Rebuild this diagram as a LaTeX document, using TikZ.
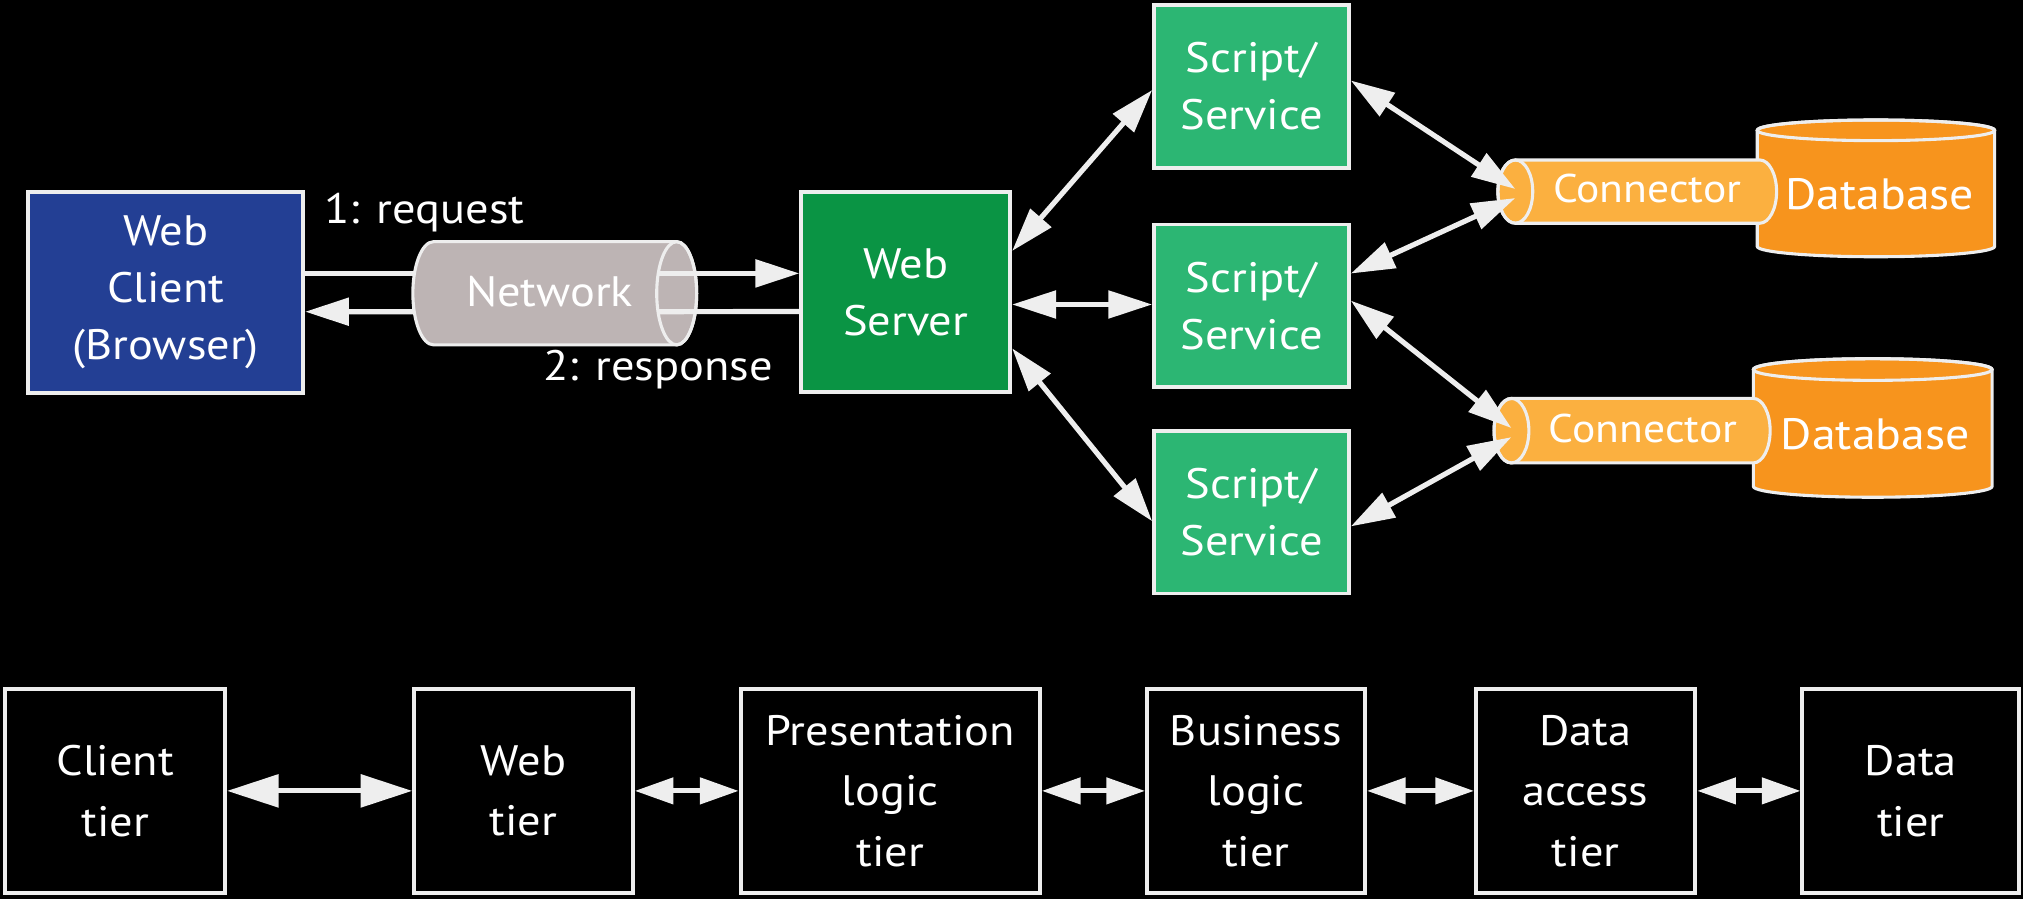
\documentclass[tikz,border=0pt]{standalone}
\usepackage{fontspec}
\setmainfont{PT Sans}[FakeStretch=1.09]
\usetikzlibrary{arrows.meta}
\definecolor{lc}{HTML}{EEEEEE}
\definecolor{clientblue}{HTML}{233F94}
\definecolor{servergreen}{HTML}{0A9444}
\definecolor{scriptgreen}{HTML}{2CB673}
\definecolor{netgray}{HTML}{BDB4B4}
\definecolor{connorange}{HTML}{FBB040}
\definecolor{dborange}{HTML}{F7941D}
\begin{document}
\begin{tikzpicture}[x=0.5pt,y=-0.5pt,
  txt/.style={text=white, font=\fontsize{16.5}{22}\selectfont, align=center, inner sep=0pt},
  lbl/.style={text=white, font=\fontsize{16.5}{18}\selectfont, inner sep=0pt},
  box/.style={txt, draw=lc, line width=1.5pt},
  script/.style={box, fill=scriptgreen, minimum width=75.5pt, minimum height=63pt},
  tier/.style={box, fill=black, font=\fontsize{16.5}{23.5}\selectfont, minimum height=79pt},
  cyl/.style={draw=lc, line width=1.2pt},
  arr/.style={draw=lc, line width=2pt, -{Triangle[length=17pt,width=10.5pt]}},
  dbl/.style={draw=lc, line width=2pt, {Triangle[length=17pt,width=10.5pt]}-{Triangle[length=17pt,width=10.5pt]}},
  tbig/.style={draw=lc, line width=2pt, {Triangle[length=20pt,width=12.5pt]}-{Triangle[length=20pt,width=12.5pt]}},
  tsmall/.style={draw=lc, line width=2pt, {Triangle[length=15pt,width=10pt]}-{Triangle[length=15pt,width=10pt]}}
]
\path[use as bounding box, fill=black] (0,0) rectangle (1568,697);

% --- boxes
\node[box, fill=clientblue, minimum width=106.5pt, minimum height=77.75pt] (wc) at (128.5,226.7) {Web\\Client\\(Browser)};
\node[box, fill=servergreen, minimum width=81pt, minimum height=77.5pt] (ws) at (702,226.5) {Web\\Server};
\node[script] (s1) at (970,67) {Script/\\Service};
\node[script] (s2) at (970,237) {Script/\\Service};
\node[script] (s3) at (970,397) {Script/\\Service};

% --- network cylinder
\draw[cyl, fill=netgray] (524.5,187.3) -- (336,187.3)
  arc[start angle=90,end angle=270,x radius=8pt,y radius=20pt] -- (524.5,267.3)
  arc[start angle=-90,end angle=90,x radius=7.75pt,y radius=20pt] -- cycle;
\draw[cyl] (524.5,227.3) ellipse[x radius=7.75pt,y radius=20pt];
\node[lbl] (net) at (426,226) {Network};

% --- databases
\draw[cyl, fill=dborange] (1362,101) -- (1362,191)
  arc[start angle=180,end angle=360,x radius=46pt,y radius=4pt] -- (1546,101)
  arc[start angle=0,end angle=180,x radius=46pt,y radius=4pt] -- cycle;
\draw[cyl] (1454,101) ellipse[x radius=46pt,y radius=4pt];
\draw[cyl, fill=dborange] (1359,286.4) -- (1359,377)
  arc[start angle=180,end angle=360,x radius=46.25pt,y radius=4.2pt] -- (1544,286.4)
  arc[start angle=0,end angle=180,x radius=46.25pt,y radius=4.2pt] -- cycle;
\draw[cyl] (1451.5,286.4) ellipse[x radius=46.25pt,y radius=4.2pt];
\node[lbl, font=\fontsize{17}{18}\selectfont] (db1) at (1457,150.5) {Database};
\node[lbl, font=\fontsize{17}{18}\selectfont] (db2) at (1453.5,336.5) {Database};

% --- connectors
\draw[cyl, fill=connorange] (1174.5,124) -- (1364,124)
  arc[start angle=90,end angle=-90,x radius=6.5pt,y radius=12.25pt] -- (1174.5,173)
  arc[start angle=270,end angle=90,x radius=6.75pt,y radius=12.25pt] -- cycle;
\draw[cyl] (1174.5,148.5) ellipse[x radius=6.75pt,y radius=12.25pt];
\draw[cyl, fill=connorange] (1171.5,308.8) -- (1359,308.8)
  arc[start angle=90,end angle=-90,x radius=6.5pt,y radius=12.5pt] -- (1171.5,358.8)
  arc[start angle=270,end angle=90,x radius=6.75pt,y radius=12.5pt] -- cycle;
\draw[cyl] (1171.5,333.8) ellipse[x radius=6.75pt,y radius=12.5pt];
\node[lbl, font=\fontsize{15.5}{18}\selectfont] (cn1) at (1276.7,146) {Connector};
\node[lbl, font=\fontsize{15.5}{18}\selectfont] (cn2) at (1273.5,332) {Connector};
\coordinate (c1f) at (1174.5,148.5);
\coordinate (c2f) at (1171.5,333.8);

% --- request / response
\coordinate (rqL) at (321.5,211.9);
\coordinate (rqR) at (510.2,211.9);
\coordinate (rsL) at (321.5,241.6);
\coordinate (rsR) at (510.2,241.6);
\draw[draw=lc, line width=2pt] ([yshift=7.4pt]wc.east) -- (rqL);
\draw[arr] (rqR) -- ([yshift=7.3pt]ws.west);
\draw[draw=lc, line width=2pt] ([yshift=-7.45pt]ws.west) -- (rsR);
\draw[arr] (rsL) -- ([yshift=-7.45pt]wc.east);
\node[lbl, anchor=base] (lreq) at (329,173) {1: request};
\node[lbl, anchor=base] (lresp) at (510,294.6) {2: response};

% --- server <-> scripts
\draw[dbl] ([yshift=16pt]ws.east) -- ([yshift=-1.4pt]s1.west);
\draw[dbl] ([yshift=-4.75pt]ws.east) -- ([yshift=0.5pt]s2.west);
\draw[dbl] ([yshift=-21.75pt]ws.east) -- ([yshift=-3.5pt]s3.west);

% --- scripts <-> connectors
\draw[dbl] ([yshift=2.3pt]s1.east) -- ([yshift=1pt]c1f);
\draw[dbl] ([yshift=12.5pt]s2.east) -- ([yshift=-2.5pt]c1f);
\draw[dbl] ([yshift=2pt]s2.east) -- ([yshift=1pt]c2f);
\draw[dbl] ([yshift=-5.5pt]s3.east) -- ([yshift=-2.5pt]c2f);

% --- tiers
\node[tier, minimum width=85.25pt] (t1) at (89.25,613) {Client\\tier};
\node[tier, minimum width=84.75pt] (t2) at (405.75,613) {Web\\tier};
\node[tier, minimum width=116pt] (t3) at (690,613) {Presentation\\logic\\tier};
\node[tier, minimum width=84.5pt] (t4) at (973.5,613) {Business\\logic\\tier};
\node[tier, minimum width=85pt] (t5) at (1229,613) {Data\\access\\tier};
\node[tier, minimum width=84pt] (t6) at (1481,613) {Data\\tier};
\draw[tbig] (t1.east) -- (t2.west);
\draw[tsmall] (t2.east) -- (t3.west);
\draw[tsmall] (t3.east) -- (t4.west);
\draw[tsmall] (t4.east) -- (t5.west);
\draw[tsmall] (t5.east) -- (t6.west);
\end{tikzpicture}
\end{document}
